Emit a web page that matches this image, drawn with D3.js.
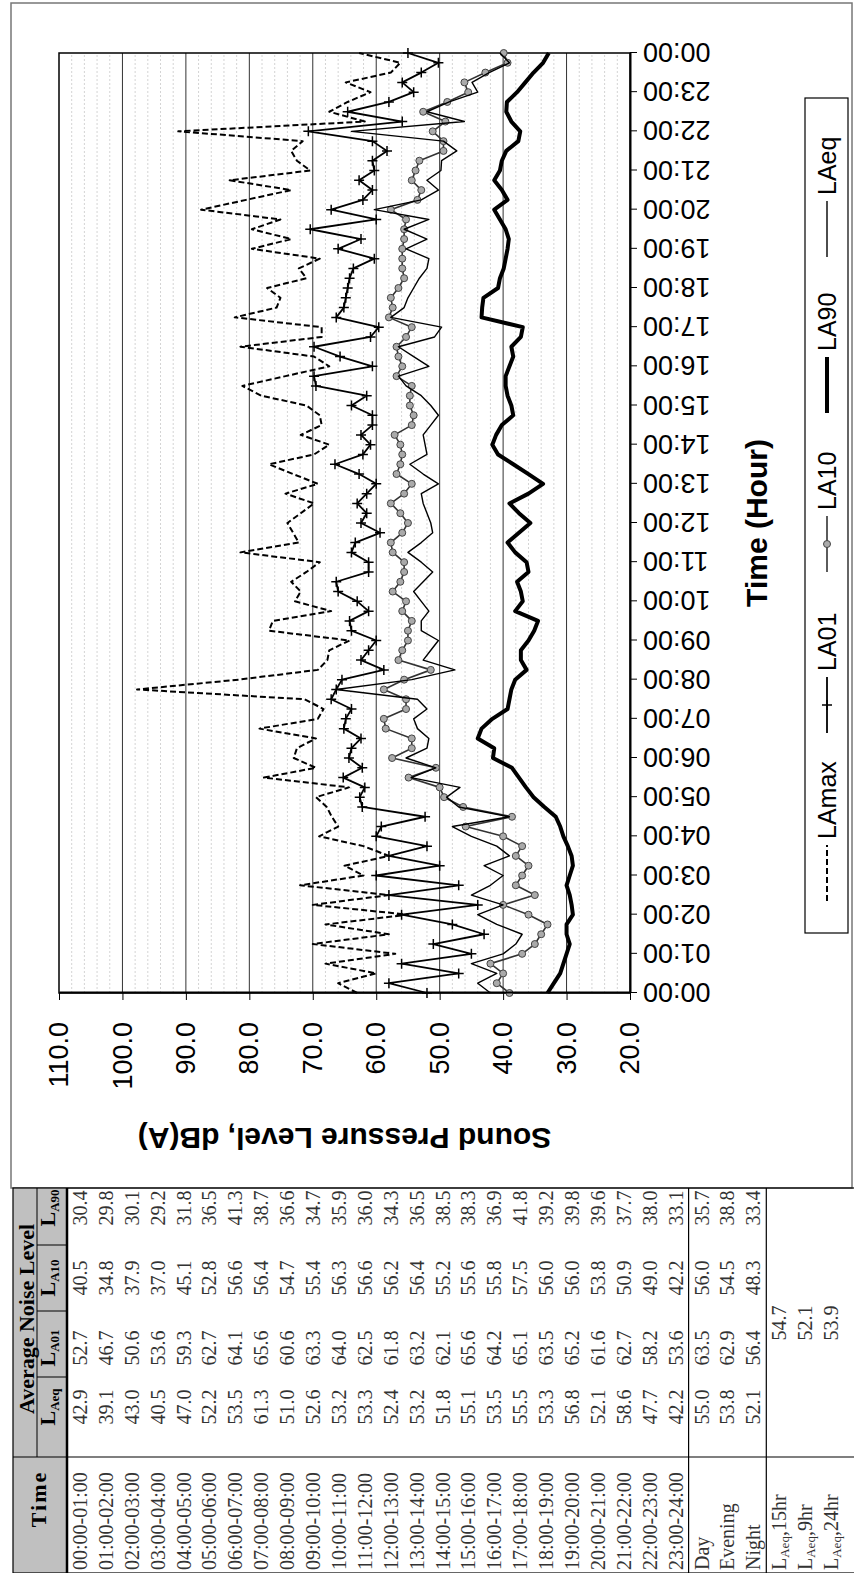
<!DOCTYPE html>
<html>
<head>
<meta charset="utf-8">
<script src="https://cdn.jsdelivr.net/npm/d3@7"></script>
<style>
  html, body { margin: 0; padding: 0; background: #fff; }
  svg { display: block; }
</style>
</head>
<body>
<div id="chart"></div>
<script>
// 15-minute samples, 00:00 to 24:00
const hours = d3.range(97).map(i => i / 4);

const laMax = [63, 66, 60, 68, 57, 70, 58, 68, 55, 70, 58, 72, 62, 65, 58, 62, 69, 66,
  67, 67.8, 69.5, 64.3, 77.7, 69.5, 73.0,
  72.5, 69.5, 78.4, 69.2, 68.3, 71.3, 97.7, 81.7, 69.2, 67.7, 67.4, 64.2, 76.9,
  76.3, 67.1, 72.8, 71.9, 73.4, 71.0, 68.9, 81.4, 72.2, 73.1, 74.0, 71.9, 69.8,
  74.3, 69.2, 73.1, 76.9, 69.8, 67.4, 71.9, 68.6, 68.9, 71.0, 78.1, 81.1,
  74.3, 67.4, 69.8, 81.4, 68.6, 68.6, 82.3, 75.7, 75.1, 77.2, 71.0, 72.2,
  68.9, 79.6, 73.4, 79.6, 75.1, 87.6, 80.5, 73.4, 83.1, 70.4, 72.5, 73.4,
  71.6, 91.2, 61.8, 67.4, 64.5, 60.9, 64.8, 57.7, 56.2, 62.7];

const la01 = [52, 58, 47, 56, 45, 51, 43, 48, 56, 44, 58, 47, 60, 50, 58, 52, 60, 59.2,
  52.3, 62.2, 62.6, 61.8, 65.2, 62.2, 64.3,
  63.9, 62.4, 65.1, 64.8, 63.9, 67.1, 66.3, 65.4, 58.8, 62.4, 61.2, 60.0, 63.9,
  64.2, 61.2, 63.0, 66.0, 66.3, 61.2, 61.2, 63.9, 63.3, 59.4, 62.4, 61.5, 63.0,
  61.5, 60.0, 62.7, 66.5, 62.1, 60.9, 62.4, 60.6, 60.6, 63.9, 61.5, 69.5,
  69.8, 60.6, 65.7, 69.8, 60.9, 59.6, 66.3, 65.1, 64.8, 64.5, 64.2, 63.6,
  60.3, 66.0, 62.4, 70.4, 60.0, 67.1, 62.1, 60.6, 62.7, 60.3, 60.6, 58.3,
  60.6, 70.7, 55.9, 64.5, 58.0, 54.1, 55.9, 52.9, 50.2, 55.0];

const la10 = [39, 41, 40, 42, 37, 35, 34, 33, 36, 40, 35, 38, 37, 36, 38, 37, 40, 45.9,
  38.6, 46.3, 49.3, 50.0, 54.9, 50.6, 57.5,
  54.4, 54.4, 58.5, 58.8, 55.3, 55.3, 58.8, 55.6, 51.4, 56.5, 55.9, 55.0, 55.0,
  54.4, 55.9, 55.3, 57.4, 56.2, 55.6, 55.6, 57.4, 57.7, 55.9, 55.0, 56.2, 57.7,
  55.6, 54.4, 56.8, 56.2, 55.9, 56.2, 57.1, 54.4, 54.1, 54.7, 54.7, 54.4,
  56.8, 55.9, 56.5, 56.8, 55.3, 54.4, 58.0, 57.4, 57.7, 56.5, 55.6, 55.9,
  55.9, 55.9, 55.6, 55.6, 55.3, 57.7, 53.5, 52.9, 54.4, 53.8, 53.2, 49.4,
  49.4, 51.1, 49.1, 52.6, 48.8, 45.5, 46.1, 42.8, 39.3, 39.9];

const la90 = [33, 32, 31, 30.5, 30, 29.5, 30, 30, 29, 29.2, 29.5, 30, 29.5, 29, 29.2, 29.8, 30.5, 31,
  31.7, 33.5, 35.2, 36.4, 37.5, 38.6, 41.6,
  41.4, 44.0, 43.4, 41.7, 39.3, 39.0, 38.7, 38.1, 36.3, 37.2, 37.2, 36.0, 35.1,
  34.5, 38.1, 36.9, 37.2, 37.8, 36.0, 36.3, 38.1, 39.3, 37.5, 35.7, 37.5, 39.0,
  36.0, 33.7, 36.0, 38.4, 40.8, 41.7, 41.1, 40.2, 38.4, 38.7, 39.3, 39.6,
  39.6, 39.0, 38.4, 38.7, 37.2, 36.9, 43.4, 43.3, 43.1, 40.8, 40.5, 39.9,
  39.6, 39.3, 39.1, 39.6, 40.5, 41.4, 39.3, 40.2, 41.4, 40.5, 40.2, 39.5,
  37.6, 37.3, 38.7, 39.5, 39.4, 37.8, 36.5, 35.2, 33.7, 32.8];

const laEq = [42, 44, 41, 45, 40, 38, 37, 41, 44, 40, 45, 42, 40, 43, 39, 41, 45, 48,
  39.0, 47, 48.9, 46.8, 54.5, 50.6, 55.3,
  52.0, 51.7, 53.5, 54.1, 52.0, 53.5, 66.3, 54.4, 47.6, 52.6, 51.4, 50.2, 52.9,
  52.9, 51.7, 52.9, 54.1, 52.6, 51.1, 52.9, 55.0, 52.9, 51.1, 51.4, 52.0, 52.6,
  52.9, 50.2, 52.6, 54.7, 52.0, 52.3, 52.6, 51.4, 50.2, 51.4, 52.9, 55.3,
  56.5, 51.7, 54.1, 56.5, 50.8, 49.7, 57.7, 55.6, 55.0, 54.1, 53.2, 52.0,
  51.7, 55.3, 52.0, 55.6, 51.7, 60.3, 52.9, 50.2, 52.0, 49.8, 49.7, 47.3,
  49.4, 63.9, 46.1, 52.0, 48.5, 44.0, 44.9, 42.2, 39.0, 40.5];

const hourRows = [
  ['00:00-01:00', '42.9', '52.7', '40.5', '30.4'],
  ['01:00-02:00', '39.1', '46.7', '34.8', '29.8'],
  ['02:00-03:00', '43.0', '50.6', '37.9', '30.1'],
  ['03:00-04:00', '40.5', '53.6', '37.0', '29.2'],
  ['04:00-05:00', '47.0', '59.3', '45.1', '31.8'],
  ['05:00-06:00', '52.2', '62.7', '52.8', '36.5'],
  ['06:00-07:00', '53.5', '64.1', '56.6', '41.3'],
  ['07:00-08:00', '61.3', '65.6', '56.4', '38.7'],
  ['08:00-09:00', '51.0', '60.6', '54.7', '36.6'],
  ['09:00-10:00', '52.6', '63.3', '55.4', '34.7'],
  ['10:00-11:00', '53.2', '64.0', '56.3', '35.9'],
  ['11:00-12:00', '53.3', '62.5', '56.6', '36.0'],
  ['12:00-13:00', '52.4', '61.8', '56.2', '34.3'],
  ['13:00-14:00', '53.2', '63.2', '56.4', '36.5'],
  ['14:00-15:00', '51.8', '62.1', '55.2', '38.5'],
  ['15:00-16:00', '55.1', '65.6', '55.6', '38.3'],
  ['16:00-17:00', '53.5', '64.2', '55.8', '36.9'],
  ['17:00-18:00', '55.5', '65.1', '57.5', '41.8'],
  ['18:00-19:00', '53.3', '63.5', '56.0', '39.2'],
  ['19:00-20:00', '56.8', '65.2', '56.0', '39.8'],
  ['20:00-21:00', '52.1', '61.6', '53.8', '39.6'],
  ['21:00-22:00', '58.6', '62.7', '50.9', '37.7'],
  ['22:00-23:00', '47.7', '58.2', '49.0', '38.0'],
  ['23:00-24:00', '42.2', '53.6', '42.2', '33.1']
];
const periodRows = [
  ['Day', '55.0', '63.5', '56.0', '35.7'],
  ['Evening', '53.8', '62.9', '54.5', '38.8'],
  ['Night', '52.1', '56.4', '48.3', '33.4']
];
const overallRows = [
  ['15hr', '54.7'],
  ['9hr', '52.1'],
  ['24hr', '53.9']
];
const subHeads = ['Aeq', 'A01', 'A10', 'A90'];

const W = 854, H = 1573;
const svg = d3.select('#chart').append('svg').attr('width', W).attr('height', H);

// the figure is a landscape page turned a quarter turn anticlockwise
const page = svg.append('g').attr('transform', `translate(0,${H}) rotate(-90)`);
const sans = 'Liberation Sans, Arial, sans-serif';
const serif = 'Liberation Serif, Times New Roman, serif';

// outer frame around the chart part
page.append('rect')
  .attr('x', 385).attr('y', 11).attr('width', 1185).attr('height', 841)
  .attr('fill', 'none').attr('stroke', '#777').attr('stroke-width', 1.5);

const x = d3.scaleLinear().domain([0, 24]).range([580, 1520]);
const y = d3.scaleLinear().domain([20, 110]).range([630, 59]);

const plot = page.append('g');

plot.append('g').selectAll('line')
  .data(d3.range(22, 110, 2).filter(v => v % 10 !== 0))
  .join('line')
  .attr('x1', x(0)).attr('x2', x(24))
  .attr('y1', d => y(d)).attr('y2', d => y(d))
  .attr('stroke', '#d4d4d4').attr('stroke-width', 1).attr('stroke-dasharray', '2,2');

plot.append('g').selectAll('line')
  .data(d3.range(30, 110, 10))
  .join('line')
  .attr('x1', x(0)).attr('x2', x(24))
  .attr('y1', d => y(d)).attr('y2', d => y(d))
  .attr('stroke', '#333').attr('stroke-width', 1);

plot.append('rect')
  .attr('x', x(0)).attr('y', y(110))
  .attr('width', x(24) - x(0)).attr('height', y(20) - y(110))
  .attr('fill', 'none').attr('stroke', '#000').attr('stroke-width', 1.5);

const pad = h => String(h % 24).padStart(2, '0') + ':00';

const xAxis = page.append('g')
  .attr('transform', `translate(0,${y(20)})`)
  .call(d3.axisBottom(x).tickValues(d3.range(0, 25)).tickSize(7).tickSizeOuter(0).tickFormat(pad));
xAxis.select('.domain').attr('stroke-width', 2);
xAxis.selectAll('text')
  .attr('font-family', sans).attr('font-size', 27).attr('fill', '#000')
  .attr('text-anchor', 'end')
  .attr('transform', 'translate(0,13) rotate(-90)')
  .attr('x', 0).attr('y', 0).attr('dy', '0.35em');

const yAxis = page.append('g')
  .attr('transform', `translate(${x(0)},0)`)
  .call(d3.axisLeft(y).tickValues(d3.range(20, 111, 10)).tickSize(7).tickSizeOuter(0).tickFormat(d3.format('.1f')));
yAxis.select('.domain').attr('stroke-width', 2);
yAxis.selectAll('text')
  .attr('font-family', sans).attr('font-size', 27).attr('fill', '#000')
  .attr('x', -29);

page.append('text')
  .attr('x', (x(0) + x(24)) / 2).attr('y', 767)
  .attr('text-anchor', 'middle')
  .attr('font-family', sans).attr('font-size', 30).attr('font-weight', 'bold')
  .text('Time (Hour)');

page.append('text')
  .attr('transform', `translate(445,${(y(20) + y(110)) / 2}) rotate(-90)`)
  .attr('text-anchor', 'middle')
  .attr('font-family', sans).attr('font-size', 30).attr('font-weight', 'bold')
  .text('Sound Pressure Level, dB(A)');

const line = d3.line().x((d, i) => x(hours[i])).y(d => y(d));

const series = [
  { name: 'LAmax', values: laMax, width: 2, dash: '6,3', color: '#000' },
  { name: 'LA01', values: la01, width: 1.8, dash: null, color: '#000', marker: 'plus' },
  { name: 'LA10', values: la10, width: 1.6, dash: null, color: '#333', marker: 'circle' },
  { name: 'LA90', values: la90, width: 4, dash: null, color: '#000' },
  { name: 'LAeq', values: laEq, width: 1.4, dash: null, color: '#000' }
];

series.forEach(s => {
  plot.append('path')
    .datum(s.values)
    .attr('fill', 'none')
    .attr('stroke', s.color)
    .attr('stroke-width', s.width)
    .attr('stroke-linejoin', 'round')
    .attr('stroke-dasharray', s.dash)
    .attr('d', line);
  if (s.marker === 'plus') {
    plot.append('g').selectAll('path')
      .data(s.values)
      .join('path')
      .attr('transform', (d, i) => `translate(${x(hours[i])},${y(d)})`)
      .attr('d', 'M-5,0H5M0,-5V5')
      .attr('stroke', '#000').attr('stroke-width', 1.5);
  }
  if (s.marker === 'circle') {
    plot.append('g').selectAll('circle')
      .data(s.values)
      .join('circle')
      .attr('cx', (d, i) => x(hours[i])).attr('cy', d => y(d))
      .attr('r', 3.5)
      .attr('fill', '#aaa').attr('stroke', '#444').attr('stroke-width', 1);
  }
});

// legend under the time axis
const legend = page.append('g');
legend.append('rect')
  .attr('x', 640).attr('y', 805).attr('width', 835).attr('height', 43)
  .attr('fill', '#fff').attr('stroke', '#000').attr('stroke-width', 1.2);
const legendX = [672, 840, 1001, 1160, 1316];
series.forEach((s, k) => {
  const lx = legendX[k], ly = 827;
  legend.append('line')
    .attr('x1', lx).attr('x2', lx + 56).attr('y1', ly).attr('y2', ly)
    .attr('stroke', s.color).attr('stroke-width', s.width)
    .attr('stroke-dasharray', s.dash);
  if (s.marker === 'plus') {
    legend.append('path').attr('transform', `translate(${lx + 28},${ly})`)
      .attr('d', 'M-5,0H5M0,-5V5').attr('stroke', '#000').attr('stroke-width', 1.5);
  }
  if (s.marker === 'circle') {
    legend.append('circle').attr('cx', lx + 28).attr('cy', ly).attr('r', 3.5)
      .attr('fill', '#aaa').attr('stroke', '#444');
  }
  legend.append('text')
    .attr('x', lx + 62).attr('y', ly).attr('dy', '0.35em')
    .attr('font-family', sans).attr('font-size', 25)
    .text(s.name);
});

// data table on the left of the chart
const table = page.append('g');
const colX = [116, 196, 262, 328, 385];
const colMid = [166, 225, 295, 365];
const rowH = 25.9, headTop = 13, headMid = 37, headBot = 67;

table.append('rect')
  .attr('x', 0).attr('y', headTop).attr('width', 385).attr('height', headBot - headTop)
  .attr('fill', '#c0c0c0');
table.append('rect')
  .attr('x', 0).attr('y', headTop).attr('width', 385).attr('height', 900)
  .attr('fill', 'none').attr('stroke', '#000').attr('stroke-width', 1.2);

table.append('text')
  .attr('x', 74).attr('y', 38).attr('dy', '0.35em').attr('text-anchor', 'middle')
  .attr('font-family', serif).attr('font-size', 22).attr('font-weight', 'bold')
  .attr('letter-spacing', 2)
  .text('Time');
table.append('text')
  .attr('x', 254).attr('y', 26).attr('dy', '0.35em').attr('text-anchor', 'middle')
  .attr('font-family', serif).attr('font-size', 22).attr('font-weight', 'bold')
  .text('Average Noise Level');
subHeads.forEach((s, k) => {
  const t = table.append('text')
    .attr('x', colMid[k]).attr('y', 55).attr('text-anchor', 'middle')
    .attr('font-family', serif).attr('font-size', 22).attr('font-weight', 'bold');
  t.append('tspan').text('L');
  t.append('tspan').attr('font-size', 13).attr('dy', 4).text(s);
});

const headLines = [
  [colX[0], headMid, 385, headMid, 1],
  [0, headBot, 385, headBot, 2.5],
  [colX[0], headTop, colX[0], 900, 1.2]
];
subHeads.slice(1).forEach((s, k) => headLines.push([colX[k + 1], headMid, colX[k + 1], headBot, 1]));
const groupTop1 = headBot + rowH * hourRows.length;
const groupTop2 = groupTop1 + rowH * periodRows.length;
headLines.push([0, groupTop1, 385, groupTop1, 1.2]);
headLines.push([0, groupTop2, 385, groupTop2, 1.2]);
table.append('g').selectAll('line')
  .data(headLines)
  .join('line')
  .attr('x1', d => d[0]).attr('y1', d => d[1]).attr('x2', d => d[2]).attr('y2', d => d[3])
  .attr('stroke', '#000').attr('stroke-width', d => d[4]);

function drawRow(row, top) {
  const base = top + rowH / 2;
  table.append('text')
    .attr('x', 3).attr('y', base).attr('dy', '0.35em')
    .attr('font-family', serif).attr('font-size', 20).attr('fill', '#333')
    .text(row[0]);
  row.slice(1).forEach((v, k) => {
    table.append('text')
      .attr('x', colMid[k]).attr('y', base).attr('dy', '0.35em').attr('text-anchor', 'middle')
      .attr('font-family', serif).attr('font-size', 20).attr('fill', '#333')
      .text(v);
  });
}
hourRows.forEach((r, i) => drawRow(r, headBot + i * rowH));
periodRows.forEach((r, i) => drawRow(r, groupTop1 + i * rowH));
overallRows.forEach((r, i) => {
  const base = groupTop2 + i * rowH + rowH / 2;
  const t = table.append('text')
    .attr('x', 3).attr('y', base).attr('dy', '0.35em')
    .attr('font-family', serif).attr('font-size', 20).attr('fill', '#333');
  t.append('tspan').text('L');
  t.append('tspan').attr('font-size', 13).attr('dy', 3).text('Aeq');
  t.append('tspan').attr('dy', -3).text(',' + r[0]);
  table.append('text')
    .attr('x', 250).attr('y', base).attr('dy', '0.35em').attr('text-anchor', 'middle')
    .attr('font-family', serif).attr('font-size', 20).attr('fill', '#333')
    .text(r[1]);
});
</script>
</body>
</html>
